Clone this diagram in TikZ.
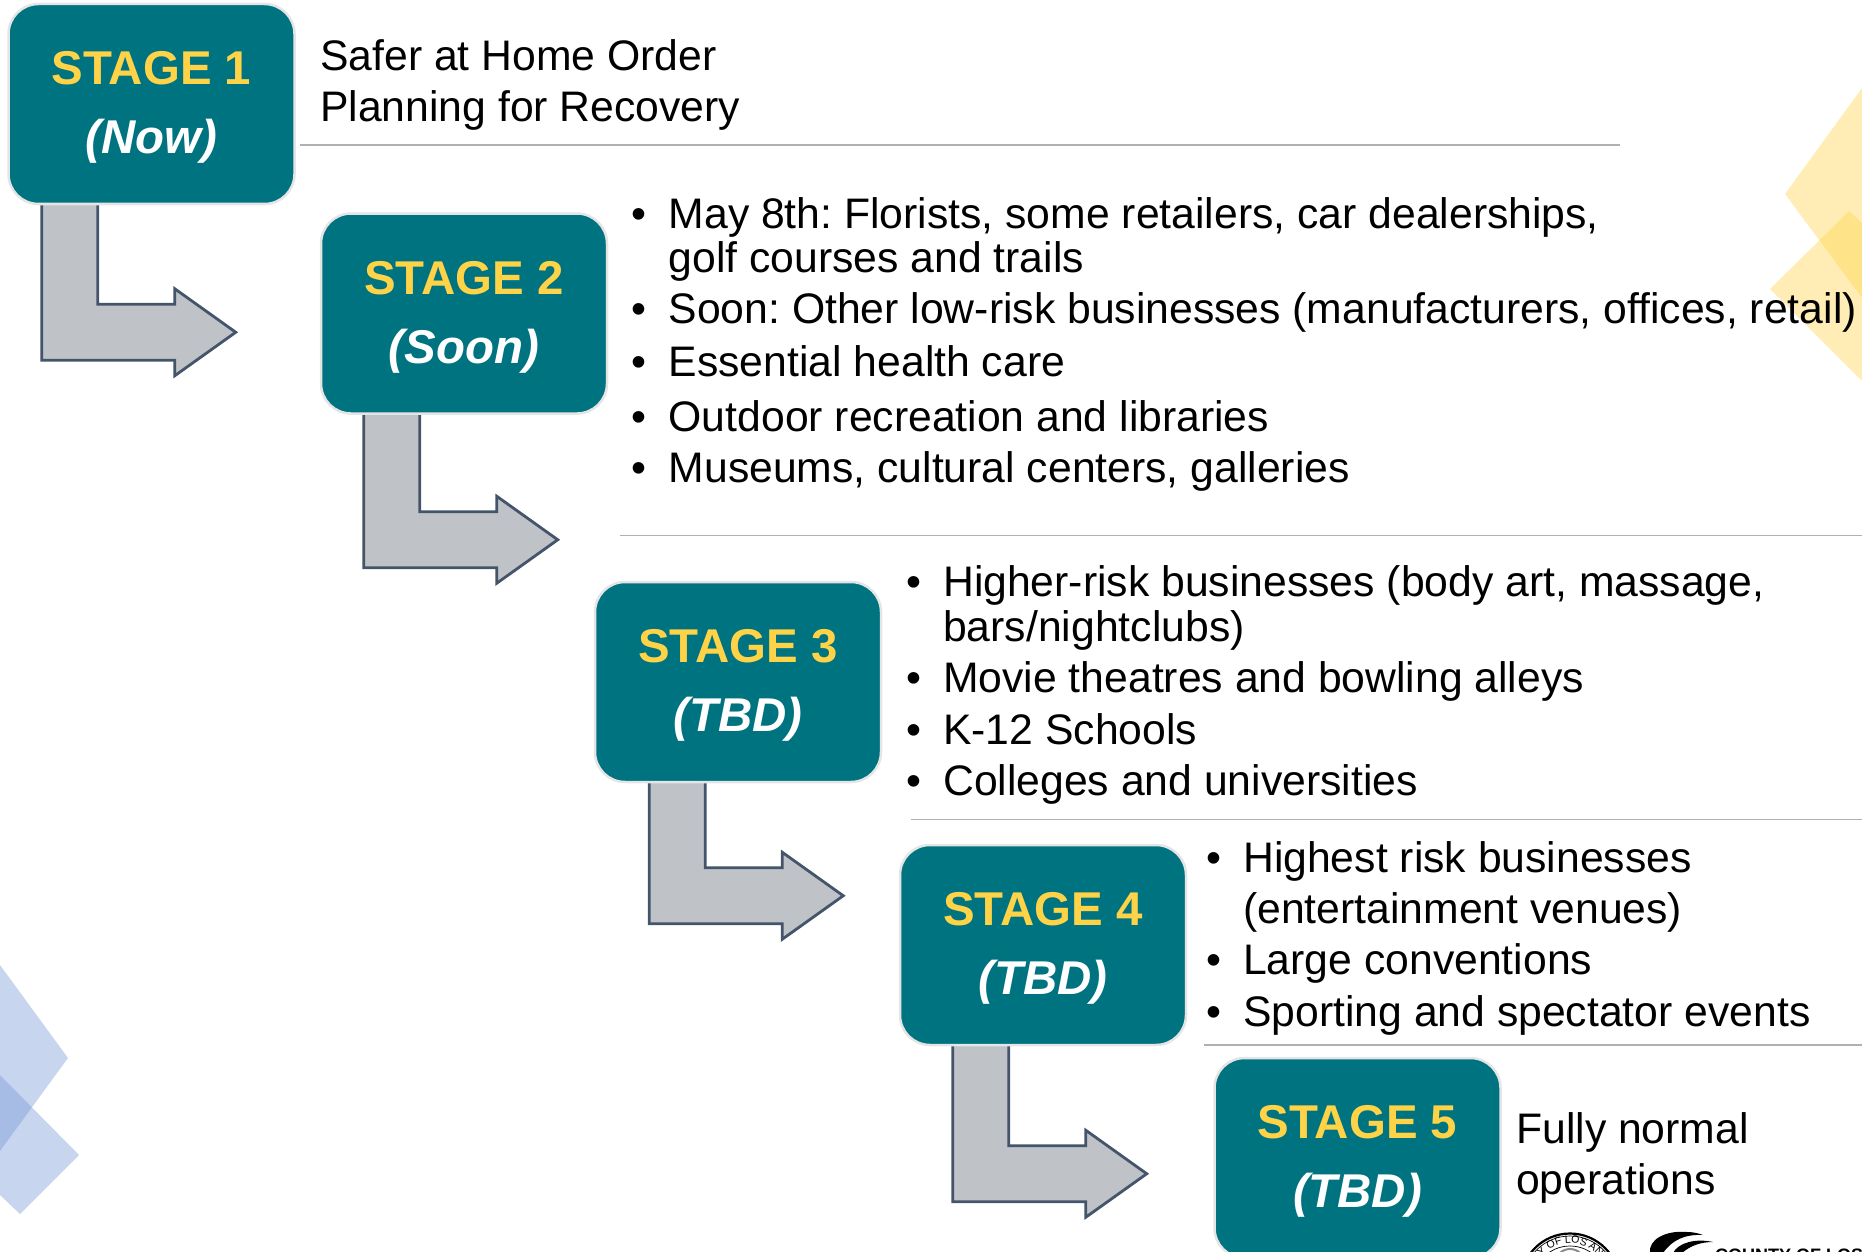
\documentclass[tikz,border=0pt]{standalone}
\usepackage{fontspec}
\setmainfont{Liberation Sans}
\usetikzlibrary{backgrounds,decorations.text}

\definecolor{stageteal}{HTML}{007381}
\definecolor{stagegold}{HTML}{FFD347}
\definecolor{arrowfill}{HTML}{BFC2C7}
\definecolor{arrowedge}{HTML}{44546A}
\definecolor{ruleline}{HTML}{B0B0B0}
\definecolor{diamondgold}{HTML}{FFD347}
\definecolor{diamondblue}{HTML}{7A9AD8}

\tikzset{
  stagebox/.style={draw=black!10, line width=2.5pt, fill=stageteal, rounded corners=30pt,
    minimum width=286pt, minimum height=200pt, inner sep=0pt, align=center,
    font=\fontsize{47.4}{69}\selectfont\bfseries},
  itemtext/.style={anchor=base west, inner sep=0pt, font=\fontsize{42.7}{50}\selectfont\frenchspacing},
  bentarrow/.style={draw=arrowedge, line width=2.8pt, fill=arrowfill, miter limit=8},
  stagerule/.style={draw=ruleline, line width=1.2pt},
  golddiamond/.style={fill=diamondgold, fill opacity=.4},
  bluediamond/.style={fill=diamondblue, fill opacity=.42}
}
\newcommand{\stageitem}[1]{\llap{\textbullet\hspace{22pt}}#1}

\begin{document}
\begin{tikzpicture}[x=1pt,y=-1pt]
  \useasboundingbox (0,0) rectangle (1862,1252);

  % Stage boxes: number / centre x / centre y / timing
  \foreach \i/\x/\y/\when in {1/151.5/104/Now, 2/464/313.5/Soon, 3/738/682/TBD, 4/1043/945/TBD, 5/1357.5/1158/TBD} {
    \node[stagebox] (stage\i) at (\x,\y) {\rule{0pt}{40pt}\textcolor{stagegold}{STAGE \i}\\\textcolor{white}{\itshape (\when)}};
  }

  % Diamonds and arrows sit behind everything
  \begin{pgfonlayer}{background}
    \fill[golddiamond] (1785,194) -- (1862,88) -- (1862,298) -- cycle;
    \fill[golddiamond] (1770,289) -- (1849,211) -- (1862,223) -- (1862,381) -- cycle;
    \fill[bluediamond] (68,1058) -- (0,965) -- (0,1151) -- cycle;
    \fill[bluediamond] (79,1155) -- (0,1075) -- (0,1195) -- (20,1214) -- cycle;

    % Arrows: from stage / shift from corner / shaft depth
    \foreach \i/\dx/\dep in {1/34.5/99, 2/44/97, 3/55.5/84.5, 4/54/99.5} {
      \draw[bentarrow] ([xshift=\dx pt,yshift=3pt]stage\i.south west) -- ++(0,\dep+59) -- ++(133,0)
        -- ++(0,15.5) -- ++(61,-43.5) -- ++(-61,-43.5) -- ++(0,15.5) -- ++(-77,0) -- ++(0,-\dep-3) -- cycle;
    }
  \end{pgfonlayer}

  % Rules between the stages
  \draw[stagerule] (300,145) -- (1620,145);
  \draw[stagerule] (620,535.5) -- (1862,535.5);
  \draw[stagerule] (911,819.5) -- (1862,819.5);
  \draw[stagerule] (1204,1045) -- (1862,1045);

  % Stage 1
  \node[itemtext] (item11) at (320,71) {Safer at Home Order};
  \node[itemtext] (item12) at (320,122) {Planning for Recovery};

  % Stage 2
  \node[itemtext] (item21) at (668.5,228) {\stageitem{May 8th: Florists, some retailers, car dealerships,}};
  \node[itemtext] (item22) at (668.5,272) {golf courses and trails};
  \node[itemtext] (item23) at (668.5,323) {\stageitem{Soon: Other low-risk businesses (manufacturers, offices, retail)}};
  \node[itemtext] (item24) at (668.5,376) {\stageitem{Essential health care}};
  \node[itemtext] (item25) at (668.5,431) {\stageitem{Outdoor recreation and libraries}};
  \node[itemtext] (item26) at (668.5,482) {\stageitem{Museums, cultural centers, galleries}};

  % Stage 3
  \node[itemtext] (item31) at (943,596) {\stageitem{Higher-risk businesses (body art, massage,}};
  \node[itemtext] (item32) at (943,641) {bars/nightclubs)};
  \node[itemtext] (item33) at (943,692) {\stageitem{Movie theatres and bowling alleys}};
  \node[itemtext] (item34) at (943,744) {\stageitem{K-12 Schools}};
  \node[itemtext] (item35) at (943,795) {\stageitem{Colleges and universities}};

  % Stage 4
  \node[itemtext] (item41) at (1243,872) {\stageitem{Highest risk businesses}};
  \node[itemtext] (item42) at (1243,923) {(entertainment venues)};
  \node[itemtext] (item43) at (1243,974) {\stageitem{Large conventions}};
  \node[itemtext] (item44) at (1243,1026) {\stageitem{Sporting and spectator events}};

  % Stage 5
  \node[itemtext] (item51) at (1516,1143) {Fully normal};
  \node[itemtext] (item52) at (1516,1194) {operations};

  % County seal, cut by the page edge
  \draw[line width=2.2pt] (1570,1283) circle[radius=49.5pt];
  \draw[line width=.7pt] (1570,1283) circle[radius=47pt];
  \draw[line width=.7pt] (1570,1283) circle[radius=37pt];
  \draw[black!45, line width=2pt] (1570,1264) circle[radius=15pt];
  \path[decorate, decoration={text along path, text align=center,
      text={|\fontsize{10.5}{11}\selectfont|ITY OF LOS ANG}}]
    (1532,1270) .. controls (1550,1234) and (1590,1234) .. (1608,1270);

  % County logo, cut by the page edge
  \fill (1650,1253) .. controls (1648,1240) and (1665,1230) .. (1687,1232)
    .. controls (1695,1232) and (1700,1234) .. (1703,1235)
    .. controls (1685,1234) and (1672,1240) .. (1663,1253) -- cycle;
  \fill (1673,1253) .. controls (1678,1243) and (1695,1238) .. (1713,1242)
    .. controls (1700,1242) and (1690,1246) .. (1682,1253) -- cycle;
  \node[anchor=base west, inner sep=0pt, font=\fontsize{18}{18}\selectfont\bfseries] (countyname) at (1715,1261) {COUNTY OF LOS};
\end{tikzpicture}
\end{document}
